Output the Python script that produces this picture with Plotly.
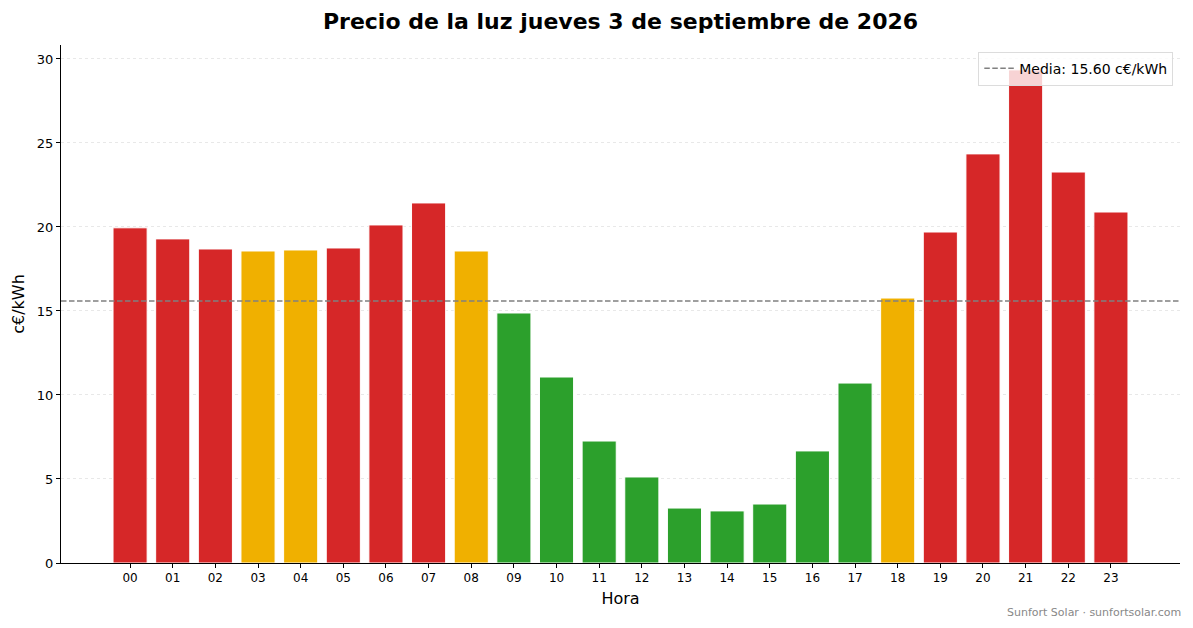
import plotly.graph_objects as go

horas = [f"{h:02d}" for h in range(24)]
precios = [19.95, 19.29, 18.69, 18.57, 18.63, 18.75, 20.12, 21.43, 18.57, 14.88,
           11.07, 7.26, 5.12, 3.27, 3.10, 3.51, 6.67, 10.71, 15.77, 19.70,
           24.35, 29.35, 23.27, 20.89]
niveles = ["alto", "alto", "alto", "medio", "medio", "alto", "alto", "alto", "medio", "bajo",
           "bajo", "bajo", "bajo", "bajo", "bajo", "bajo", "bajo", "bajo", "medio", "alto",
           "alto", "alto", "alto", "alto"]
media = 15.60

colores = {"alto": "#d62728", "medio": "#f0b000", "bajo": "#2ca02c"}
font = "DejaVu Sans, sans-serif"

fig = go.Figure()
fig.add_trace(go.Bar(
    x=horas, y=precios, width=0.8,
    marker=dict(color=[colores[n] for n in niveles],
                line=dict(color="white", width=1)),
    showlegend=False,
))
fig.add_shape(type="line", xref="paper", x0=0, x1=1, y0=media, y1=media,
              line=dict(color="#808080", width=1.5, dash="5.5px,2.5px"),
              showlegend=True, name=f"Media: {media:.2f} c€/kWh")

fig.add_annotation(text="Sunfort Solar · sunfortsolar.com", xref="paper", yref="paper",
                   x=1.003, y=-0.0965, xanchor="right", yanchor="middle", showarrow=False,
                   font=dict(size=11, color="#888888", family=font))

# the page has an 8px body margin, so the figure is a bit smaller than the window
fig.update_layout(
    width=1177, height=612,
    margin=dict(l=53, r=5, t=37, b=57),
    paper_bgcolor="white", plot_bgcolor="white",
    font=dict(family=font, color="black"),
    title=dict(text="<b>Precio de la luz jueves 3 de septiembre de 2026</b>",
               xref="paper", x=0.5, xanchor="center", y=0.978, yanchor="middle",
               font=dict(size=22, family=font)),
    legend=dict(x=0.994, y=0.987, xanchor="right", yanchor="top",
                bgcolor="rgba(255,255,255,0.8)", bordercolor="#dcdcdc", borderwidth=1,
                font=dict(size=14, family=font), itemwidth=30,
                tracegroupgap=0),
    xaxis=dict(
        title=dict(text="Hora", font=dict(size=16), standoff=8),
        range=[-1.62, 24.62], showline=True, linecolor="black", linewidth=1,
        ticks="outside", ticklen=4, tickcolor="black", tickfont=dict(size=12),
        showgrid=False, zeroline=False,
    ),
    yaxis=dict(
        title=dict(text="c€/kWh", font=dict(size=16), standoff=8),
        range=[0, 30.83], showline=True, linecolor="black", linewidth=1,
        ticks="outside", ticklen=4, tickcolor="black", tickfont=dict(size=13),
        dtick=5, showgrid=True, gridcolor="#e8e8e8", griddash="dot", gridwidth=1,
        zeroline=False,
    ),
    bargap=0.2,
)

fig.write_html("out.html")
